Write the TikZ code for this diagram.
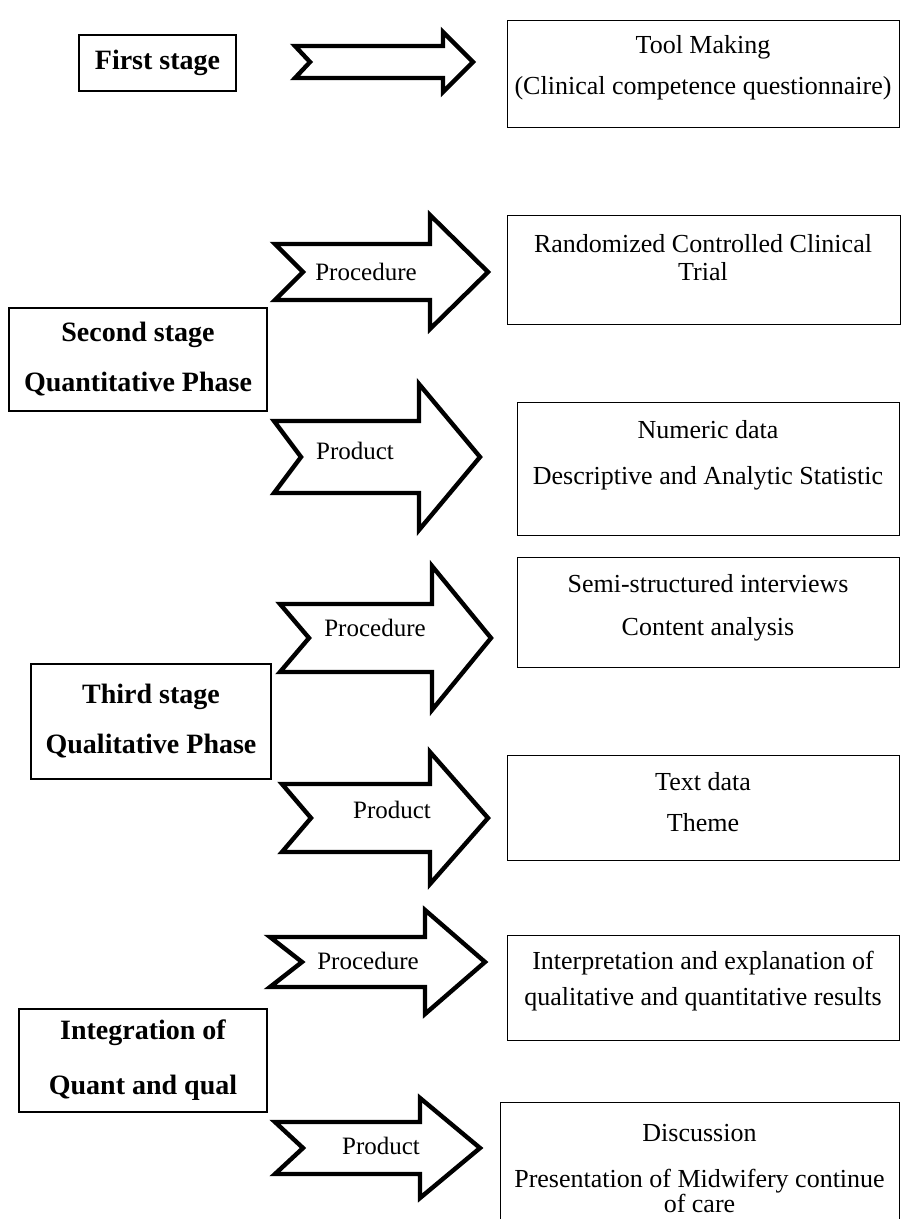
\documentclass[tikz,border=0pt]{standalone}
\usepackage{fontspec}
\setmainfont{Liberation Serif}
\usetikzlibrary{positioning}

\tikzset{
  stagebox/.style={draw, line width=0.6pt, align=center, inner sep=0pt,
    font=\fontsize{14}{15}\selectfont\bfseries},
  outbox/.style={draw, line width=0.6pt, anchor=north west, inner sep=0pt},
  outtext/.style={align=center, inner sep=0pt, font=\fontsize{13}{14}\selectfont},
  fatarrow/.style={draw, line width=2.2pt, line join=miter, fill=white},
  arrowlabel/.style={inner sep=0pt, font=\fontsize{12.5}{14}\selectfont}
}

% #1 tail, #2 notch, #3 head start, #4 tip, #5 centre y, #6 tail half, #7 head half
\newcommand{\blockarrow}[7]{%
  \draw[fatarrow] (#1,#5-#6) -- (#3,#5-#6) -- (#3,#5-#7) -- (#4,#5)
    -- (#3,#5+#7) -- (#3,#5+#6) -- (#1,#5+#6) -- (#2,#5) -- cycle;
}

\begin{document}
\begin{tikzpicture}[x=0.5pt, y=-0.5pt]

\useasboundingbox (0,0) rectangle (901,1219);

% Stages on the left
\node[stagebox, minimum width=78.5pt, minimum height=28pt] (first) at (157.5,63) {First stage};
\node[stagebox, minimum width=129pt, minimum height=51.5pt] (second) at (138,359.5)
  {\raisebox{-2pt}{Second stage}\\[12pt]Quantitative Phase};
\node[stagebox, minimum width=120pt, minimum height=57.5pt] (third) at (151,721.5)
  {Third stage\\[10pt]Qualitative Phase};
\node[stagebox, minimum width=124pt, minimum height=51.5pt] (integ) at (143,1060.5)
  {Integration of\\[12.5pt]Quant and qual};

% Boxes on the right
\node[outbox, minimum width=196pt, minimum height=53.5pt] (tool) at (507,20) {};
\node[outbox, minimum width=196.5pt, minimum height=54.5pt] (rct) at (507,215) {};
\node[outbox, minimum width=191pt, minimum height=66.5pt] (numeric) at (517,402) {};
\node[outbox, minimum width=191pt, minimum height=55pt] (semi) at (517,557) {};
\node[outbox, minimum width=196pt, minimum height=52.5pt] (textdata) at (507,755) {};
\node[outbox, minimum width=196pt, minimum height=52.5pt] (interp) at (507,935) {};
\node[outbox, minimum width=199.5pt, minimum height=70pt] (disc) at (500,1102) {};

% Texts in the right boxes
\node[outtext] (tooltext) at (703,68) {Tool Making\\[6.5pt](Clinical competence questionnaire)};
\node[outtext] (rcttext) at (703,257.5) {Randomized Controlled Clinical\\Trial};
\node[outtext] (numerictext) at (708,455) {Numeric data\\[9pt]Descriptive and Analytic Statistic};
\node[outtext] (semitext) at (708,607.5) {Semi-structured interviews\\[7.5pt]Content analysis};
\node[outtext] (textdatatext) at (703,802.5) {Text data\\[6.5pt]Theme};
\node[outtext] (interptext) at (703,981)
  {Interpretation and explanation of\\[4pt]qualitative and quantitative results};
\node[outtext] (disctext) at (699.5,1168.5)
  {Discussion\\[9pt]Presentation of Midwifery continue\\[-1.5pt]of care};

% Block arrows
\blockarrow{295}{310}{443}{473}{62}{16}{30}
\blockarrow{275}{303}{430}{488}{272}{28}{57}
\blockarrow{274}{301}{419}{480}{457}{36}{73}
\blockarrow{280}{309}{432}{491}{638}{34}{72}
\blockarrow{282}{311}{430}{488}{818}{34}{66}
\blockarrow{270}{302}{425}{485}{962}{25}{52}
\blockarrow{275}{303}{420}{480}{1148}{26}{50}

% Labels on the arrows
\node[arrowlabel] (proc1) at (366,272) {Procedure};
\node[arrowlabel] (prod1) at (355,451) {Product};
\node[arrowlabel] (proc2) at (375,628) {Procedure};
\node[arrowlabel] (prod2) at (392,810) {Product};
\node[arrowlabel] (proc3) at (368,961) {Procedure};
\node[arrowlabel] (prod3) at (381,1146) {Product};

\end{tikzpicture}
\end{document}
